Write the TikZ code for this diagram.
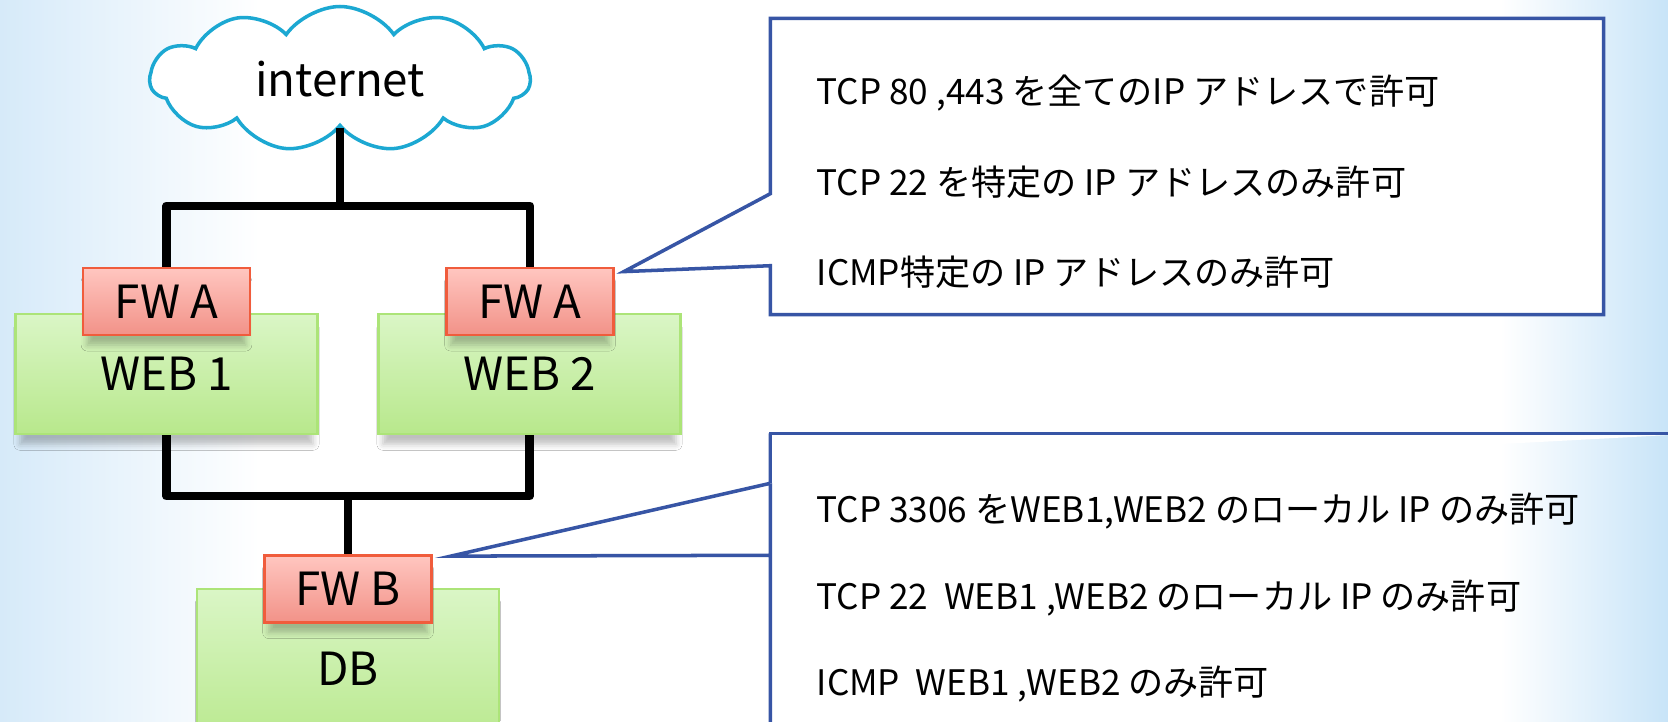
\documentclass[tikz,border=0pt]{standalone}
\usepackage{fontspec}
\usepackage{xcolor}
\usepackage{tikz}
\setmainfont{Noto Sans CJK JP}
\usetikzlibrary{shapes.symbols,shadows.blur}
\definecolor{CloudBlue}{RGB}{28,168,210}
\definecolor{NoteBlue}{RGB}{55,85,165}
\definecolor{WebTop}{RGB}{218,246,198}
\definecolor{WebBottom}{RGB}{184,232,140}
\definecolor{WebEdge}{RGB}{172,228,120}
\definecolor{FwTop}{RGB}{255,198,192}
\definecolor{FwBottom}{RGB}{242,146,136}
\definecolor{FwEdge}{RGB}{240,92,60}
\definecolor{SkyBlue}{RGB}{200,228,248}
\definecolor{PaleBlue}{RGB}{214,234,249}

\begin{document}
\begin{tikzpicture}[
    net/.style={
        cloud,
        cloud puffs=11,
        cloud puff arc=110,
        aspect=2.6,
        draw=CloudBlue,
        line width=1pt,
        fill=white,
        minimum width=3.8cm,
        minimum height=1.45cm,
        inner sep=0pt,
        font=\fontsize{13}{15}\selectfont
    },
    server/.style={
        rectangle,
        draw=WebEdge,
        line width=0.8pt,
        top color=WebTop,
        bottom color=WebBottom,
        minimum width=3.02cm,
        minimum height=1.2cm,
        blur shadow={shadow scale=0.97, shadow xshift=0pt, shadow yshift=-3.5pt,
            shadow opacity=25, shadow blur radius=1.8pt},
        font=\fontsize{13}{15}\selectfont
    },
    fw/.style={
        rectangle,
        draw=FwEdge,
        line width=0.8pt,
        top color=FwTop,
        bottom color=FwBottom,
        minimum width=1.67cm,
        minimum height=0.67cm,
        blur shadow={shadow scale=0.95, shadow xshift=0pt, shadow yshift=-3.5pt,
            shadow opacity=25, shadow blur radius=1.8pt},
        font=\fontsize{13}{15}\selectfont
    },
    notebox/.style={
        rectangle,
        inner sep=0pt
    },
    noteline/.style={
        draw=NoteBlue,
        line width=1pt,
        fill=white
    },
    rule/.style={
        anchor=west,
        inner sep=0pt,
        font=\fontsize{10}{12}\selectfont
    },
    link/.style={
        line width=2.3pt,
        line join=round
    }
]

% background
\fill[white] (0,0) rectangle (16.68,-7.21);
\shade[left color=PaleBlue, right color=white] (0,0) rectangle (2.6,-7.21);
\shade[left color=white, right color=SkyBlue] (15.0,0) rectangle (16.68,-7.21);
\useasboundingbox (0,0) rectangle (16.68,-7.21);


\node[net] (inet) at (3.40,-0.79) {internet};

\node[server] (web1) at (1.665,-3.74) {WEB 1};
\node[server] (web2) at (5.295,-3.74) {WEB 2};
\node[server, minimum height=1.6cm] (db) at (3.48,-6.69) {DB};

\node[fw] (fwa1) at (1.665,-3.015) {FW A};
\node[fw] (fwa2) at (5.30,-3.015) {FW A};
\node[fw] (fwb) at (3.48,-5.89) {FW B};


\draw[link] (fwa1.north) -- ++(0,0.61) -| (inet.south);
\draw[link] (fwa2.north) -- ++(0,0.61) -| (inet.south);

\draw[link] (web1.south) -- ++(0,-0.61) -| (fwb.north);
\draw[link] (web2.south) -- ++(0,-0.61) -| (fwb.north);


% callouts
\coordinate (tipA) at ([xshift=0.09cm, yshift=-0.05cm]fwa2.north east);
\coordinate (tipB) at ([xshift=0.18cm, yshift=-0.02cm]fwb.north east);

\node[notebox, minimum width=8.32cm, minimum height=2.95cm]
    (noteA) at (11.87,-1.665) {};
\node[notebox, minimum width=9.29cm, minimum height=3.16cm]
    (noteB) at (12.355,-5.92) {};

\draw[noteline]
    (noteA.north west)
    -- (noteA.north east)
    -- (noteA.south east)
    -- (noteA.south west)
    -- ([yshift=0.49cm]noteA.south west)
    -- (tipA)
    -- ([yshift=1.21cm]noteA.south west)
    -- cycle;

\draw[noteline]
    (noteB.south west)
    -- (noteB.north west)
    -- ([yshift=-0.50cm]noteB.north west)
    -- (tipB)
    -- ([yshift=-1.22cm]noteB.north west)
    -- cycle;
\draw[noteline]
    (noteB.south west)
    -- ([yshift=-1.22cm]noteB.north west);
\draw[noteline]
    ([yshift=-0.50cm]noteB.north west)
    -- (noteB.north west)
    -- (noteB.north east);


\node[rule] (ruleA1) at (8.16,-0.93) {TCP 80 ,443 を全てのIP アドレスで許可};
\node[rule] (ruleA2) at (8.16,-1.82) {TCP 22 を特定の IP アドレスのみ許可};
\node[rule] (ruleA3) at (8.16,-2.72) {ICMP特定の IP アドレスのみ許可};

\node[rule] (ruleB1) at (8.16,-5.11) {TCP 3306 をWEB1,WEB2 のローカル IP のみ許可};
\node[rule] (ruleB2) at (8.16,-5.98) {TCP 22\ \ WEB1 ,WEB2 のローカル IP のみ許可};
\node[rule] (ruleB3) at (8.16,-6.84) {ICMP\ \ WEB1 ,WEB2 のみ許可};

\end{tikzpicture}
\end{document}
